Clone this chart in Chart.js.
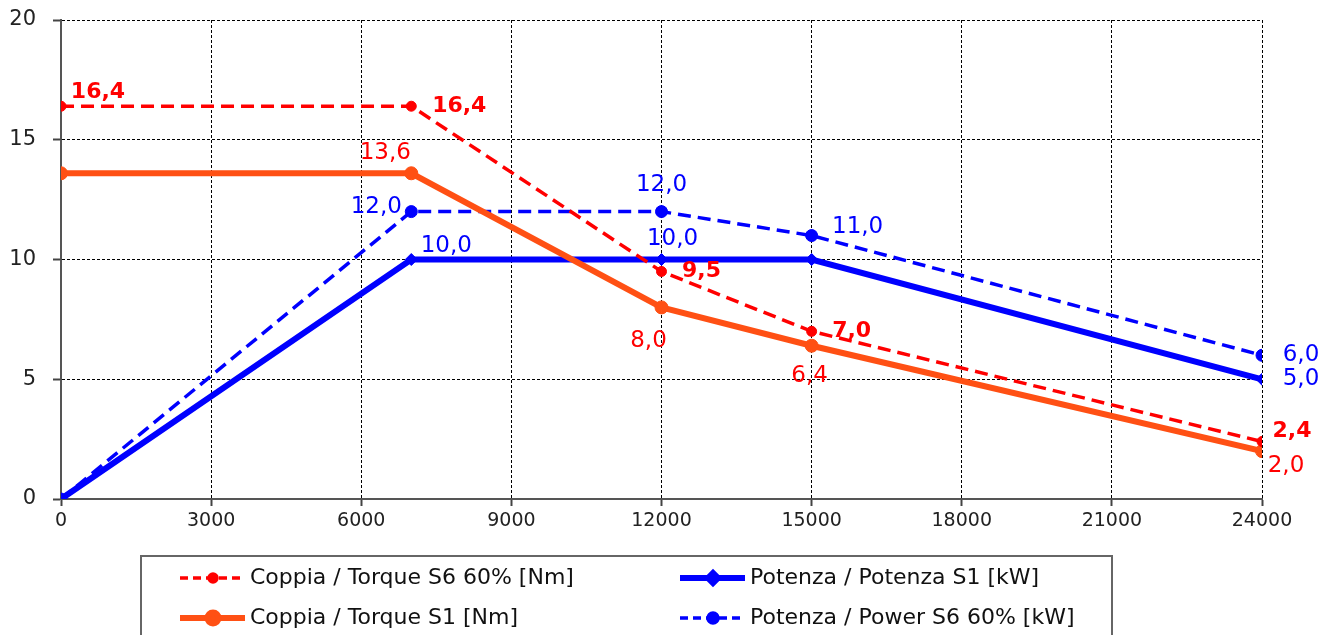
<!DOCTYPE html>
<html><head><meta charset="utf-8">
<script src="https://cdn.jsdelivr.net/npm/chart.js@4"></script>
<style>html,body{margin:0;padding:0;background:#fff;overflow:hidden}#wrap{width:1332px;height:635px;position:relative}</style>
</head><body><div id="wrap"><canvas id="c" width="1332" height="635"></canvas></div>
<script>
// ---- data ----
const rpm = [0, 7000, 12000, 15000, 24000];
const torqueS6 = [16.4, 16.4, 9.5, 7.0, 2.4];
const torqueS1 = [13.6, 13.6, 8.0, 6.4, 2.0];
const powerS1 = [0, 10, 10, 10, 5];
const powerS6 = [0, 12, 12, 11, 6];
const xTicks = [0, 3000, 6000, 9000, 12000, 15000, 18000, 21000, 24000];
const yTicks = [0, 5, 10, 15, 20];
const seriesNames = [
  'Coppia / Torque S6 60% [Nm]',
  'Coppia / Torque S1 [Nm]',
  'Potenza / Potenza S1 [kW]',
  'Potenza / Power S6 60% [kW]'
];
// which points carry a value label
const labelled = [
  [true, true, true, true, true],
  [false, true, true, true, true],
  [false, true, true, false, true],
  [false, true, true, true, true]
];

// ---- styling (not data) ----
const FONT = '"DejaVu Sans", sans-serif';
const labelOffsets = [
  [[37,-14],[48,0],[40,0],[40,0],[30,-10]],
  [null,[-26,-20],[-13,34],[-2,30],[24,15]],
  [null,[35,-13],[11,-20],null,[39,0]],
  [null,[-35,-5],[0,-27],[46,-9],[39,0]]
];
const labelStyle = [
  {color:'#FF0000', font:'bold 22px ' + FONT},
  {color:'#FF0000', font:'23px ' + FONT},
  {color:'#0000FF', font:'23px ' + FONT},
  {color:'#0000FF', font:'23px ' + FONT}
];

function pts(ys){ return rpm.map((x,i)=>({x:x, y:ys[i]})); }

const valueLabels = {
  id:'valueLabels',
  afterDatasetsDraw(chart){
    const ctx = chart.ctx;
    chart.data.datasets.forEach((ds, i) => {
      const meta = chart.getDatasetMeta(i);
      meta.data.forEach((el, j) => {
        if (!labelled[i][j] || !labelOffsets[i][j]) return;
        const v = ds.data[j].y;
        const t = v.toFixed(1).replace('.', ',');
        ctx.save();
        ctx.font = labelStyle[i].font;
        ctx.fillStyle = labelStyle[i].color;
        ctx.textAlign = 'center';
        ctx.textBaseline = 'middle';
        ctx.fillText(t, el.x + labelOffsets[i][j][0], el.y + labelOffsets[i][j][1]);
        ctx.restore();
      });
    });
  }
};

const boxLegend = {
  id:'boxLegend',
  afterDraw(chart){
    const ctx = chart.ctx;
    ctx.save();
    ctx.strokeStyle = '#666';
    ctx.lineWidth = 2;
    ctx.strokeRect(141, 556, 971, 100);
    const cols = [180, 680], rows = [578, 618];
    chart.data.datasets.forEach((ds, i) => {
      const x = cols[Math.floor(i / 2)], y = rows[i % 2];
      ctx.save();
      ctx.strokeStyle = ds.borderColor;
      ctx.lineWidth = ds.borderWidth;
      ctx.setLineDash(ds.borderDash ? [8, 5] : []);
      ctx.beginPath(); ctx.moveTo(x, y); ctx.lineTo(x + 65, y); ctx.stroke();
      ctx.setLineDash([]);
      ctx.fillStyle = ds.pointBackgroundColor;
      ctx.strokeStyle = ds.pointBackgroundColor;
      Chart.helpers.drawPoint(ctx, {pointStyle: ds.pointStyle, radius: ds.pointRadius - 1, rotation: 0, borderWidth: 1}, x + 33, y);
      ctx.restore();
      ctx.font = '22px ' + FONT;
      ctx.fillStyle = '#111';
      ctx.textAlign = 'left';
      ctx.textBaseline = 'middle';
      ctx.fillText(seriesNames[i], x + 70, y);
    });
    ctx.restore();
  }
};

new Chart(document.getElementById('c'), {
  type: 'line',
  data: {
    datasets: [
      {label: seriesNames[0], data: pts(torqueS6), borderColor:'#FF0000', borderWidth:3.5, borderDash:[13,7],
       pointStyle:'circle', pointRadius:5, pointBackgroundColor:'#FF0000', pointBorderColor:'#FF0000', pointBorderWidth:1},
      {label: seriesNames[1], data: pts(torqueS1), borderColor:'#FF5014', borderWidth:6,
       pointStyle:'circle', pointRadius:6.5, pointBackgroundColor:'#FF5014', pointBorderColor:'#FF5014', pointBorderWidth:1},
      {label: seriesNames[2], data: pts(powerS1), borderColor:'#0000FF', borderWidth:6,
       pointStyle:'rectRot', pointRadius:6, pointBackgroundColor:'#0000FF', pointBorderColor:'#0000FF', pointBorderWidth:1},
      {label: seriesNames[3], data: pts(powerS6), borderColor:'#0000FF', borderWidth:3.5, borderDash:[13,7],
       pointStyle:'circle', pointRadius:6, pointBackgroundColor:'#0000FF', pointBorderColor:'#0000FF', pointBorderWidth:1}
    ]
  },
  options: {
    responsive:false, animation:false, devicePixelRatio:1,
    layout:{padding:{left:0, top:20, right:70, bottom:96}},
    plugins:{legend:{display:false}, tooltip:{enabled:false}},
    elements:{line:{tension:0}},
    scales:{
      x:{type:'linear', min:0, max:24000,
         afterBuildTicks(s){ s.ticks = xTicks.map(v=>({value:v})); },
         afterFit(s){ s.height = 40; s.paddingLeft = 0; s.paddingRight = 0; },
         ticks:{font:{family:FONT, size:19}, color:'#222', padding:4, maxRotation:0, autoSkip:false,
                callback:(v)=>String(v)},
         grid:{color:'#000', lineWidth:1, tickLength:7, tickColor:'#444', tickWidth:2, tickBorderDash:[]},
         border:{color:'#555', width:2, dash:[3,2]}},
      y:{type:'linear', min:0, max:20,
         afterBuildTicks(s){ s.ticks = yTicks.map(v=>({value:v})); },
         afterFit(s){ s.width = 61; s.paddingTop = 0; s.paddingBottom = 0; },
         ticks:{font:{family:FONT, size:21}, color:'#222', padding:17},
         grid:{color:'#000', lineWidth:1, tickLength:8, tickColor:'#444', tickWidth:2, tickBorderDash:[]},
         border:{color:'#555', width:2, dash:[3,2]}}
    }
  },
  plugins:[valueLabels, boxLegend]
});
</script></body></html>
